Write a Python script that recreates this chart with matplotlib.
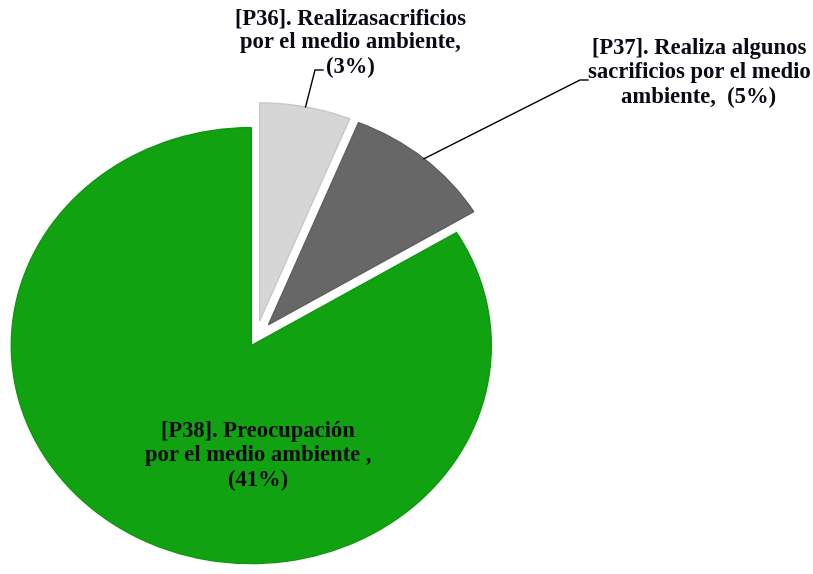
import matplotlib.pyplot as plt
import numpy as np
from matplotlib.lines import Line2D

labels = ["[P36]. Realizasacrificios\npor el medio ambiente,\n(3%)",
          "[P37]. Realiza algunos\nsacrificios por el medio\nambiente,  (5%)",
          "[P38]. Preocupación\npor el medio ambiente ,\n(41%)"]
values = [3, 5, 41]
colors = ["#d6d6d6", "#676767", "#10a210"]
edge_colors = ["#c8c8c8", "#5e5e5e", "#0e980e"]
explode = [0.08, 0.08, 0.04]

W, H = 813, 574
fig = plt.figure(figsize=(8.13, 5.74), dpi=100)
ax = fig.add_axes([0, 0, 1, 1])
cx, cy, rx, ry = 256, 338, 240, 218

wedges, _ = ax.pie(values, colors=colors, explode=explode, startangle=90,
                   counterclock=False, wedgeprops=dict(linewidth=1.0))
for w, ec in zip(wedges, edge_colors):
    w.set_edgecolor(ec)
ax.set_aspect('auto')
ax.set_xlim(-cx / rx, (W - cx) / rx)
ax.set_ylim(-(H - cy) / ry, cy / ry)
ax.axis('off')

font = dict(family='Liberation Serif', fontweight='bold', fontsize=16.3,
            color='#0a0a14', ha='center', va='center', linespacing=1.2)

def wedge_point(w, frac=1.0):
    ang = np.deg2rad((w.theta1 + w.theta2) / 2)
    x = w.center[0] + frac * w.r * np.cos(ang)
    y = w.center[1] + frac * w.r * np.sin(ang)
    return ax.transData.transform((x, y))

def fig_px(x, y_top):
    return (x, H - y_top)

# P36 label
fig.text(350 / W, 1 - 43 / H, labels[0], **font)
p0 = wedge_point(wedges[0])
e1 = fig_px(315, 70)
e2 = fig_px(323, 70)
fig.add_artist(Line2D([p0[0] / W, e1[0] / W, e2[0] / W],
                      [p0[1] / H, e1[1] / H, e2[1] / H],
                      color='black', linewidth=1.0))

# P37 label
fig.text(699 / W, 1 - 73 / H, labels[1], **font)
p1 = wedge_point(wedges[1])
f1 = fig_px(580, 80)
f2 = fig_px(588, 80)
fig.add_artist(Line2D([p1[0] / W, f1[0] / W, f2[0] / W],
                      [p1[1] / H, f1[1] / H, f2[1] / H],
                      color='black', linewidth=1.0))

# P38 label (inside)
fig.text(258 / W, 1 - 456 / H, labels[2], **font)

fig.savefig('out.png', dpi=100)
